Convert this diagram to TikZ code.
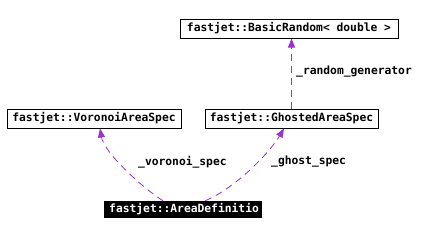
\documentclass[tikz,border=0pt]{standalone}
\usepackage{fontspec}
\newfontfamily\dxfont{DejaVu Sans Mono}
\usetikzlibrary{arrows.meta}
\definecolor{edgepurple}{HTML}{9A32CD}
\tikzset{
	classbox/.style={draw=black, line width=1pt, fill=white, inner sep=0pt, minimum height=19pt,
		font=\dxfont\bfseries\fontsize{11.3}{13}\selectfont},
	mainbox/.style={fill=black, text=white, inner sep=0pt, minimum height=17pt,
		font=\dxfont\bfseries\fontsize{11.3}{13}\selectfont},
	edgelabel/.style={anchor=west, inner sep=0pt, font=\dxfont\bfseries\fontsize{11.3}{13}\selectfont},
	member/.style={->, edgepurple, line width=0.8pt, dash pattern=on 7pt off 5pt}
}
\begin{document}
\begin{tikzpicture}[x=1pt, y=-1pt, >={Triangle[length=9pt,width=7pt]}]
			\useasboundingbox[fill=white] (0,0) rectangle (441,236);
			% classes
			\node[classbox, minimum width=218pt] (random) at (289,28.5) {fastjet::BasicRandom< double >};
			\node[classbox, minimum width=174pt] (voronoi) at (94,118.5) {fastjet::VoronoiAreaSpec};
			\node[classbox, minimum width=173pt] (ghosted) at (291.5,118.5) {fastjet::GhostedAreaSpec};
			\node[mainbox, minimum width=158pt] (areadef) at (183,209.5) {};
			\begin{scope}
				\clip (areadef.south west) rectangle (areadef.north east);
				\node[anchor=west, inner sep=0pt, text=white, font=\dxfont\bfseries\fontsize{11.3}{13}\selectfont] (areadeftext) at (109,209.5) {fastjet::AreaDefinitio};
			\end{scope}
			% members
			\draw[member] (ghosted.north) -- (ghosted.north |- random.south);
			\draw[member] ([xshift=-20pt]areadef.north) .. controls (140,186) and (104,152) .. ([xshift=6pt]voronoi.south);
			\draw[member] ([xshift=22pt]areadef.north) .. controls (236,188) and (270,152) .. ([xshift=-7.5pt]ghosted.south);
			\node[edgelabel] (randomlabel) at (296,72) {\_random\_generator};
			\node[edgelabel] (voronoilabel) at (138,162) {\_voronoi\_spec};
			\node[edgelabel] (ghostlabel) at (271,162) {\_ghost\_spec};
\end{tikzpicture}
\end{document}
